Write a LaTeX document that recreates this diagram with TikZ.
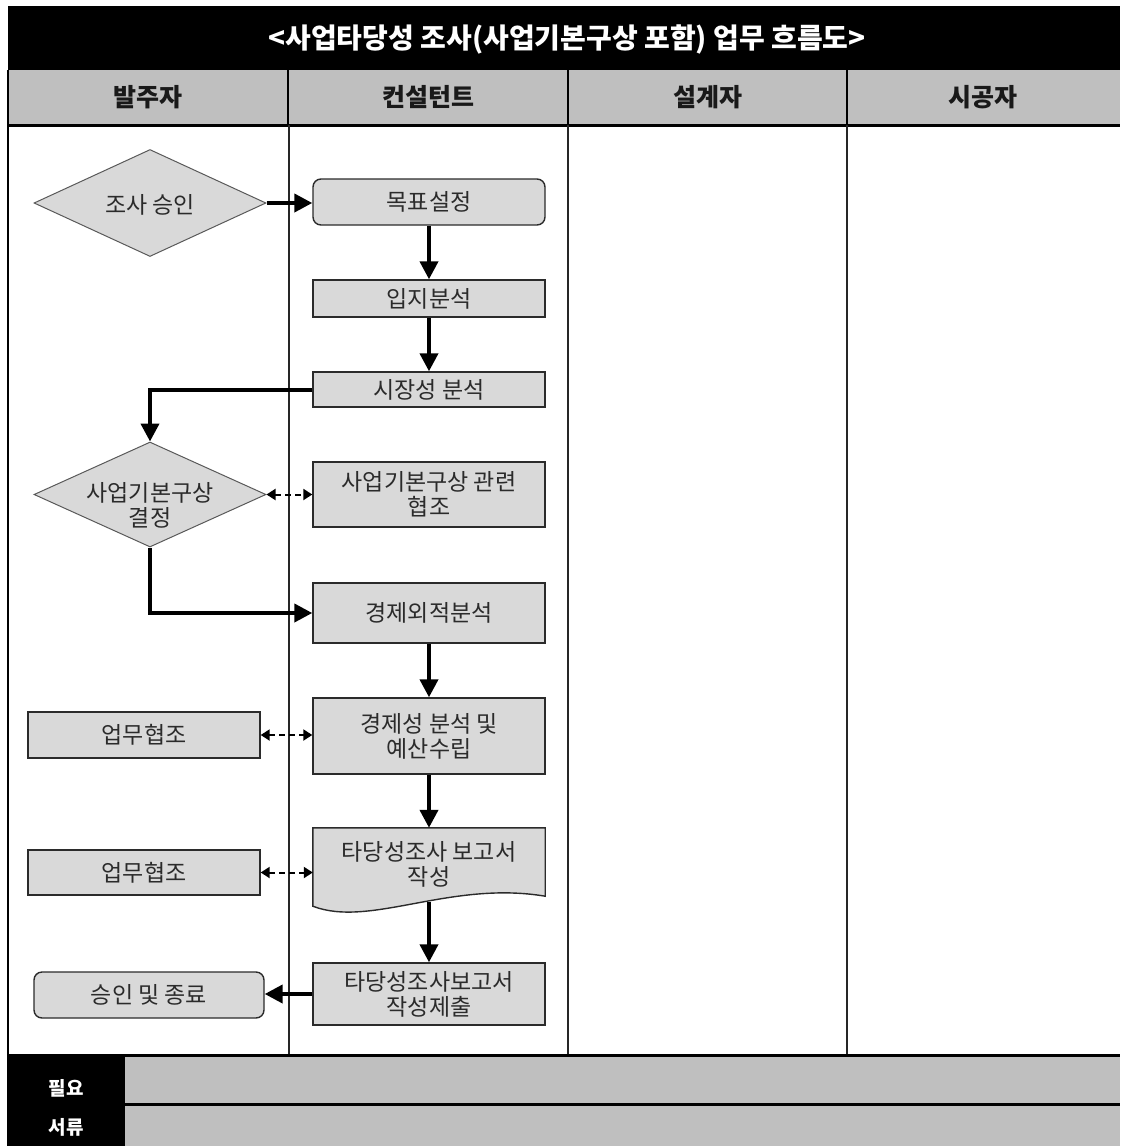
\documentclass[tikz,border=0pt]{standalone}
\usepackage{fontspec}
\setmainfont{Noto Sans CJK KR}
\usetikzlibrary{shapes.geometric,arrows.meta,calc}
\definecolor{boxgray}{HTML}{D9D9D9}
\definecolor{hdrgray}{HTML}{BFBFBF}
\definecolor{ink}{HTML}{2B2B2B}
\begin{document}
\begin{tikzpicture}[x=1pt,y=-1pt,
  proc/.style={draw=ink, line width=1.4pt, fill=boxgray, minimum width=232pt, inner sep=0pt,
    font=\fontsize{23}{25}\selectfont, text=ink, align=center},
  rproc/.style={proc, rounded corners=8pt},
  dec/.style={draw=black!65, line width=1pt, fill=boxgray, diamond, minimum width=232pt,
    minimum height=107pt, inner sep=0pt},
  dectext/.style={font=\fontsize{23}{25}\selectfont, text=ink, align=center, inner sep=0pt},
  flow/.style={line width=4pt, draw=black, -{Triangle[length=18pt,width=18pt]}},
  biflow/.style={line width=2pt, draw=black, dash pattern=on 6pt off 4pt,
    {Triangle[length=9pt,width=11pt]}-{Triangle[length=9pt,width=11pt]}},
  hdr/.style={font=\fontsize{25}{28}\selectfont\bfseries, text=black!90},
  foot/.style={font=\fontsize{19}{22}\selectfont\bfseries, text=white}
]
\useasboundingbox (0,0) rectangle (1120,1146);

% ---- title and header ----
\fill[black] (8,6) rectangle (1120,70);
\fill[hdrgray] (8,70) rectangle (1120,125);
\node[font=\fontsize{28}{30}\selectfont\bfseries, text=white] (title) at (567,39)
  {<사업타당성 조사(사업기본구상 포함) 업무 흐름도>};
\node[hdr] (h1) at (148,97) {발주자};
\node[hdr] (h2) at (428,97) {컨설턴트};
\node[hdr] (h3) at (708,97) {설계자};
\node[hdr] (h4) at (983,97) {시공자};
\foreach \x in {288,568,847} \draw[line width=2pt] (\x,70) -- (\x,125);
\draw[line width=3pt] (8,125) -- (1120,125);

% ---- lanes ----
\foreach \x in {289,568,847} \draw[line width=1.2pt, black!85] (\x,125) -- (\x,1055);
\draw[line width=2pt] (8,70) -- (8,1146);

% ---- footer ----
\fill[hdrgray] (8,1055) rectangle (1120,1146);
\fill[black] (8,1056) rectangle (125,1146);
\draw[line width=3pt] (8,1055) -- (1120,1055);
\draw[line width=3pt] (125,1104) -- (1120,1104);
\node[foot] (f1) at (66,1088) {필요};
\node[foot] (f2) at (66,1127) {서류};

% ---- nodes ----
\node[dec] (d1) at (150,203) {};
\node[dectext] (d1t) at (150,205) {조사 승인};
\node[rproc, minimum height=46pt] (b1) at (429,202) {목표설정};
\node[proc, minimum height=37pt] (b2) at (429,298.5) {입지분석};
\node[proc, minimum height=35pt] (b3) at (429,389.5) {시장성 분석};
\node[dec, minimum height=105pt] (d2) at (150,494.5) {};
\node[dectext] (d2t) at (150,505) {사업기본구상\\결정};
\node[proc, minimum height=65pt] (b4) at (429,494.5) {사업기본구상 관련\\협조};
\node[proc, minimum height=60pt] (b5) at (429,613) {경제외적분석};
\node[proc, minimum height=76pt] (b6) at (429,736) {경제성 분석 및\\예산수립};
\node[proc, minimum height=46pt] (w1) at (144,735) {업무협조};
% document shape
\node[minimum width=232pt, minimum height=74pt, inner sep=0pt] (b7) at (429,865) {};
\draw[draw=ink, line width=1.4pt, fill=boxgray]
  (b7.north west) -- (b7.north east) -- ($(b7.south east)+(0,-6)$)
  .. controls ($(b7.south)+(21,-22)$) and ($(b7.south)+(-59,26)$) .. ($(b7.south west)+(0,4)$)
  -- cycle;
\node[dectext] (b7t) at (429,864) {타당성조사 보고서\\작성};
\node[proc, minimum height=45pt] (w2) at (144,872.5) {업무협조};
\node[proc, minimum height=62pt] (b8) at (429,994) {타당성조사보고서\\작성제출};
\node[rproc, minimum width=230pt, minimum height=46pt] (e1) at (149,995) {승인 및 종료};

% ---- connectors ----
\draw[flow] (d1.east) -- (d1.east -| b1.west);
\draw[flow] (b1.south) -- (b2.north);
\draw[flow] (b2.south) -- (b3.north);
\draw[flow] (b3.west) -| (d2.north);
\draw[biflow] (d2.east) -- (d2.east -| b4.west);
\draw[flow] (d2.south) |- (b5.west);
\draw[flow] (b5.south) -- (b6.north);
\draw[biflow] (w1.east) -- (w1.east -| b6.west);
\draw[flow] (b6.south) -- (b7.north);
\draw[biflow] (w2.east) -- (w2.east -| b7.west);
\draw[flow] (b7.south) -- (b8.north);
\draw[flow] (b8.west) -- (b8.west -| e1.east);
\end{tikzpicture}
\end{document}
